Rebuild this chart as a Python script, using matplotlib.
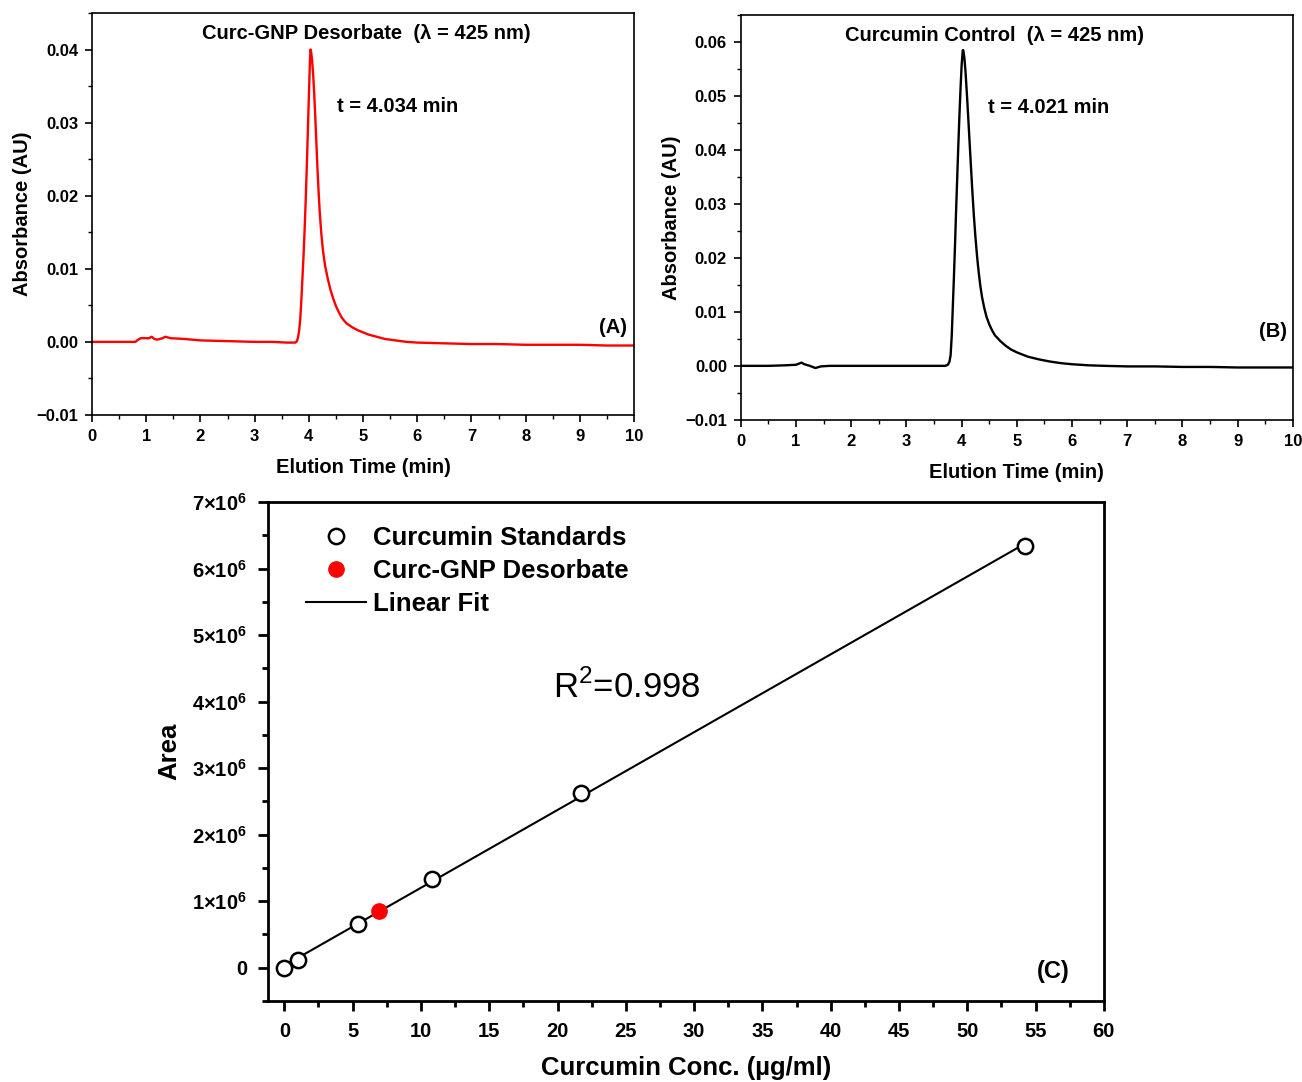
import numpy as np
import matplotlib
matplotlib.use("Agg")
import matplotlib.pyplot as plt
from matplotlib.ticker import MultipleLocator, FixedLocator, FixedFormatter, FuncFormatter

plt.rcParams['font.family'] = ['Liberation Sans', 'DejaVu Sans']
plt.rcParams['mathtext.fontset'] = 'custom'
plt.rcParams['mathtext.rm'] = 'Liberation Sans'
plt.rcParams['mathtext.bf'] = 'Liberation Sans:bold'

# chromatogram (A) Curc-GNP desorbate
time_a = [0, 0.5, 0.8, 0.85, 0.9, 1.0, 1.05, 1.1, 1.15, 1.2, 1.3, 1.35, 1.45, 1.7, 2.0,
          2.5, 3.0, 3.3, 3.6, 3.75, 3.78, 3.8, 3.82, 3.84, 3.86, 3.88, 3.9, 3.92, 3.94,
          3.96, 3.98, 4.0, 4.02, 4.03, 4.04, 4.06, 4.08, 4.1, 4.12, 4.14, 4.16, 4.18,
          4.2, 4.23, 4.26, 4.3, 4.35, 4.4, 4.45, 4.5, 4.55, 4.6, 4.65, 4.7, 4.8, 4.9,
          5.0, 5.1, 5.2, 5.3, 5.4, 5.5, 5.6, 5.8, 6.0, 6.5, 7.0, 7.5, 8.0, 8.5, 9.0,
          9.5, 10.0]
abs_a = [0.0, 0.0, 0.0, 0.0003, 0.0005, 0.0005, 0.0005, 0.0007, 0.0004, 0.0003, 0.0005,
         0.0007, 0.0005, 0.0004, 0.0002, 0.0001, 0.0, 0.0, -0.0001, -0.0001, 0.0001,
         0.0006, 0.0015, 0.003, 0.0055, 0.0085, 0.0115, 0.015, 0.019, 0.0235, 0.0285,
         0.0335, 0.0385, 0.0400, 0.0398, 0.0385, 0.0365, 0.0338, 0.0305, 0.027, 0.0235,
         0.0205, 0.0178, 0.0148, 0.0125, 0.0104, 0.0086, 0.0071, 0.0059, 0.0049,
         0.0041, 0.0034, 0.0029, 0.0025, 0.0020, 0.0016, 0.0013, 0.0010, 0.0008,
         0.0006, 0.0004, 0.0003, 0.0002, 0.0, -0.0001, -0.0002, -0.0003, -0.0003,
         -0.0004, -0.0004, -0.0004, -0.0005, -0.0005]

# chromatogram (B) curcumin control
time_b = [0, 0.5, 0.8, 1.0, 1.05, 1.1, 1.15, 1.25, 1.35, 1.45, 1.6, 2.0, 3.0, 3.5, 3.7,
          3.75, 3.78, 3.8, 3.82, 3.84, 3.86, 3.88, 3.9, 3.92, 3.94, 3.96, 3.98, 4.0,
          4.02, 4.03, 4.05, 4.07, 4.1, 4.13, 4.16, 4.19, 4.22, 4.25, 4.28, 4.31, 4.34,
          4.37, 4.41, 4.45, 4.5, 4.55, 4.6, 4.7, 4.8, 4.9, 5.0, 5.2, 5.4, 5.6, 5.8, 6.0,
          6.3, 6.6, 7.0, 7.5, 8.0, 8.5, 9.0, 9.5, 10.0]
abs_b = [0.0, 0.0, 0.0001, 0.0002, 0.0004, 0.0006, 0.0003, 0.0, -0.0004, -0.0001, 0.0,
         0.0, 0.0, 0.0, 0.0, 0.0002, 0.0008, 0.002, 0.0055, 0.011, 0.0165, 0.0225,
         0.029, 0.035, 0.041, 0.0465, 0.0515, 0.0558, 0.0585, 0.0585, 0.0570, 0.0545,
         0.0495, 0.0440, 0.0385, 0.0330, 0.0280, 0.0238, 0.0202, 0.0172, 0.0147,
         0.0127, 0.0107, 0.0091, 0.0077, 0.0066, 0.0057, 0.0046, 0.0037, 0.0030,
         0.0025, 0.0017, 0.0012, 0.0008, 0.0005, 0.0003, 0.0001, 0.0, -0.0001, -0.0001,
         -0.0002, -0.0002, -0.0003, -0.0003, -0.0003]

# calibration (C)
std_conc = [0.0, 1.0, 5.4, 10.8, 21.7, 54.2]
std_area = [0.0, 0.12e6, 0.65e6, 1.34e6, 2.63e6, 6.34e6]
gnp_conc = [6.95]
gnp_area = [0.85e6]

y_ticks_c = [0, 1e6, 2e6, 3e6, 4e6, 5e6, 6e6, 7e6]
y_labels_c = ['0'] + [r'$\mathbf{%d{\times}10^{6}}$' % k for k in range(1, 8)]

fig = plt.figure(figsize=(13.02, 10.82), dpi=100)


def fmt_abs(v, pos):
    if abs(v) < 1e-9:
        v = 0.0
    return ('%.2f' % v).replace('-', u'\u2212')


def chrom_axes(ax, ymax, ymajor, yminor):
    ax.set_xlim(0, 10)
    ax.set_ylim(-0.01, ymax)
    ax.xaxis.set_major_locator(MultipleLocator(1))
    ax.xaxis.set_minor_locator(MultipleLocator(0.5))
    ax.yaxis.set_major_locator(MultipleLocator(ymajor))
    ax.yaxis.set_minor_locator(MultipleLocator(yminor))
    ax.yaxis.set_major_formatter(FuncFormatter(fmt_abs))
    ax.tick_params(which='major', direction='out', length=5, width=1.2, labelsize=12, pad=5)
    ax.tick_params(which='minor', direction='out', length=3, width=1.0)
    for lab in ax.get_xticklabels() + ax.get_yticklabels():
        lab.set_fontweight('bold')
    for sp in ax.spines.values():
        sp.set_linewidth(1.2)
    ax.set_xlabel('Elution Time (min)', fontsize=14.5, fontweight='bold', labelpad=10)
    ax.set_ylabel('Absorbance (AU)', fontsize=14.5, fontweight='bold', labelpad=3)


# ---- panel A
axA = fig.add_axes([0.0707, 0.6165, 0.4163, 0.3715])
axA.plot(time_a, abs_a, color='red', lw=1.7)
chrom_axes(axA, 0.045, 0.01, 0.005)
axA.text(5.06, 0.0422, u'Curc-GNP Desorbate  (\u03bb = 425 nm)', ha='center', va='center',
         fontsize=14.5, fontweight='bold')
axA.text(4.52, 0.0322, 't = 4.034 min', ha='left', va='center', fontsize=14.5, fontweight='bold')
axA.text(9.61, 0.0020, '(A)', ha='center', va='center', fontsize=14.5, fontweight='bold')

# ---- panel B
axB = fig.add_axes([0.569, 0.612, 0.424, 0.374])
axB.plot(time_b, abs_b, color='black', lw=1.7)
chrom_axes(axB, 0.065, 0.01, 0.005)
axB.text(4.6, 0.0613, u'Curcumin Control  (\u03bb = 425 nm)', ha='center', va='center',
         fontsize=14.5, fontweight='bold')
axB.text(4.47, 0.0478, 't = 4.021 min', ha='left', va='center', fontsize=14.5, fontweight='bold')
axB.text(9.64, 0.0063, '(B)', ha='center', va='center', fontsize=14.5, fontweight='bold')

# ---- panel C
axC = fig.add_axes([0.2058, 0.0749, 0.642, 0.4611])
slope, icpt = np.polyfit(std_conc, std_area, 1)
xfit = np.array([min(std_conc), max(std_conc)])
axC.plot(xfit, slope * xfit + icpt, color='black', lw=1.5, label='Linear Fit', zorder=2)
axC.plot(std_conc, std_area, 'o', ms=11, mfc='white', mec='black', mew=1.8,
         label='Curcumin Standards', zorder=3)
axC.plot(gnp_conc, gnp_area, 'o', ms=11, mfc='red', mec='red', mew=1.0,
         label='Curc-GNP Desorbate', zorder=4)
axC.set_xlim(-1.2, 60)
axC.set_ylim(-0.5e6, 7e6)
axC.xaxis.set_major_locator(MultipleLocator(5))
axC.xaxis.set_minor_locator(MultipleLocator(2.5))
axC.yaxis.set_major_locator(FixedLocator(y_ticks_c))
axC.yaxis.set_major_formatter(FixedFormatter(y_labels_c))
axC.yaxis.set_minor_locator(MultipleLocator(0.5e6))
axC.tick_params(which='major', direction='out', length=7, width=2, labelsize=14.5, pad=8)
axC.tick_params(which='minor', direction='out', length=4, width=2)
for lab in axC.get_xticklabels() + axC.get_yticklabels():
    lab.set_fontweight('bold')
for sp in axC.spines.values():
    sp.set_linewidth(2)
axC.set_xlabel(u'Curcumin Conc. (\u00b5g/ml)', fontsize=18.5, fontweight='bold', labelpad=11)
axC.set_ylabel('Area', fontsize=18.5, fontweight='bold', labelpad=8)

handles, labels = axC.get_legend_handles_labels()
order = [1, 2, 0]
axC.legend([handles[i] for i in order], [labels[i] for i in order], loc='upper left',
           bbox_to_anchor=(0.033, 0.972), frameon=False, prop={'size': 18.5, 'weight': 'bold'},
           handlelength=2.35, handletextpad=0.28, labelspacing=0.34, borderaxespad=0)

axC.text(25.1, 4.22e6, r'R$^{2}$=0.998', ha='center', va='center', fontsize=25)
axC.text(56.3, -0.06e6, '(C)', ha='center', va='center', fontsize=17, fontweight='bold')

fig.savefig('out.png', dpi=100)
